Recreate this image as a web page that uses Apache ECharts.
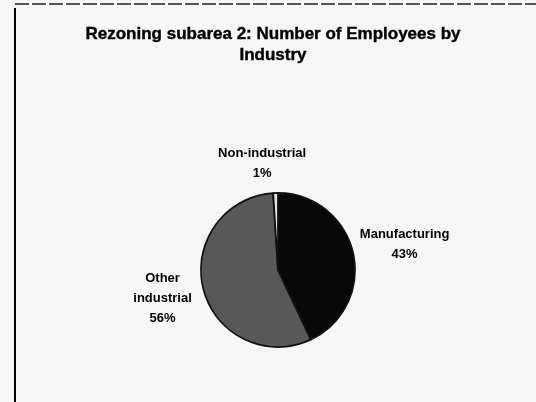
<!DOCTYPE html>
<html>
<head>
<meta charset="utf-8">
<script src="https://cdn.jsdelivr.net/npm/echarts@6/dist/echarts.min.js"></script>
<style>
  html, body { margin: 0; padding: 0; background: #f6f6f6; }
  #chart { width: 536px; height: 402px; }
</style>
</head>
<body>
<div id="chart"></div>
<script>
// Employment share by industry, clockwise from 12 o'clock
const categories = ['Manufacturing', 'Other\nindustrial', 'Non-industrial'];
const shares = [43, 56, 1];
const sliceColors = ['#080808', '#585858', '#e6e6e6'];
const titleText = 'Rezoning subarea 2: Number of Employees by\nIndustry';

// Small shifts applied to each outside label (px), in category order
const labelNudge = [[-10, -6], [5, 6], [36, -18]];

const data = categories.map((name, i) => ({
  name: name,
  value: shares[i],
  itemStyle: { color: sliceColors[i] }
}));

const chart = echarts.init(document.getElementById('chart'), null, { renderer: 'canvas' });
chart.setOption({
  backgroundColor: '#f6f6f6',
  animation: false,
  graphic: [
    { type: 'line', shape: { x1: 15, y1: 8, x2: 15, y2: 402 }, style: { stroke: '#000', lineWidth: 2 } },
    { type: 'line', shape: { x1: 15, y1: 4, x2: 536, y2: 4 }, style: { stroke: '#222', lineWidth: 1.5, lineDash: [14, 3] } },
    {
      type: 'text',
      x: 273,
      y: 24,
      style: {
        text: titleText,
        align: 'center',
        verticalAlign: 'top',
        font: 'bold 17px "Liberation Sans", Arial, sans-serif',
        lineHeight: 21,
        fill: '#000',
        stroke: '#000',
        lineWidth: 0.4
      }
    }
  ],
  series: [{
    type: 'pie',
    center: [278, 270],
    radius: 77,
    startAngle: 90,
    clockwise: true,
    data: data,
    itemStyle: { borderColor: '#111', borderWidth: 1.8 },
    label: {
      show: true,
      position: 'outside',
      formatter: '{b}\n{d}%',
      fontFamily: 'Liberation Sans, Arial, sans-serif',
      fontWeight: 'bold',
      fontSize: 13,
      lineHeight: 20,
      color: '#000',
      textAlign: 'center'
    },
    labelLine: { show: false, length: 12, length2: 0 },
    labelLayout: function (params) {
      const r = params.labelRect;
      const n = labelNudge[params.dataIndex];
      return {
        x: r.x + r.width / 2 + n[0],
        y: r.y + r.height / 2 + n[1],
        align: 'center',
        verticalAlign: 'middle'
      };
    }
  }]
});
</script>
</body>
</html>
